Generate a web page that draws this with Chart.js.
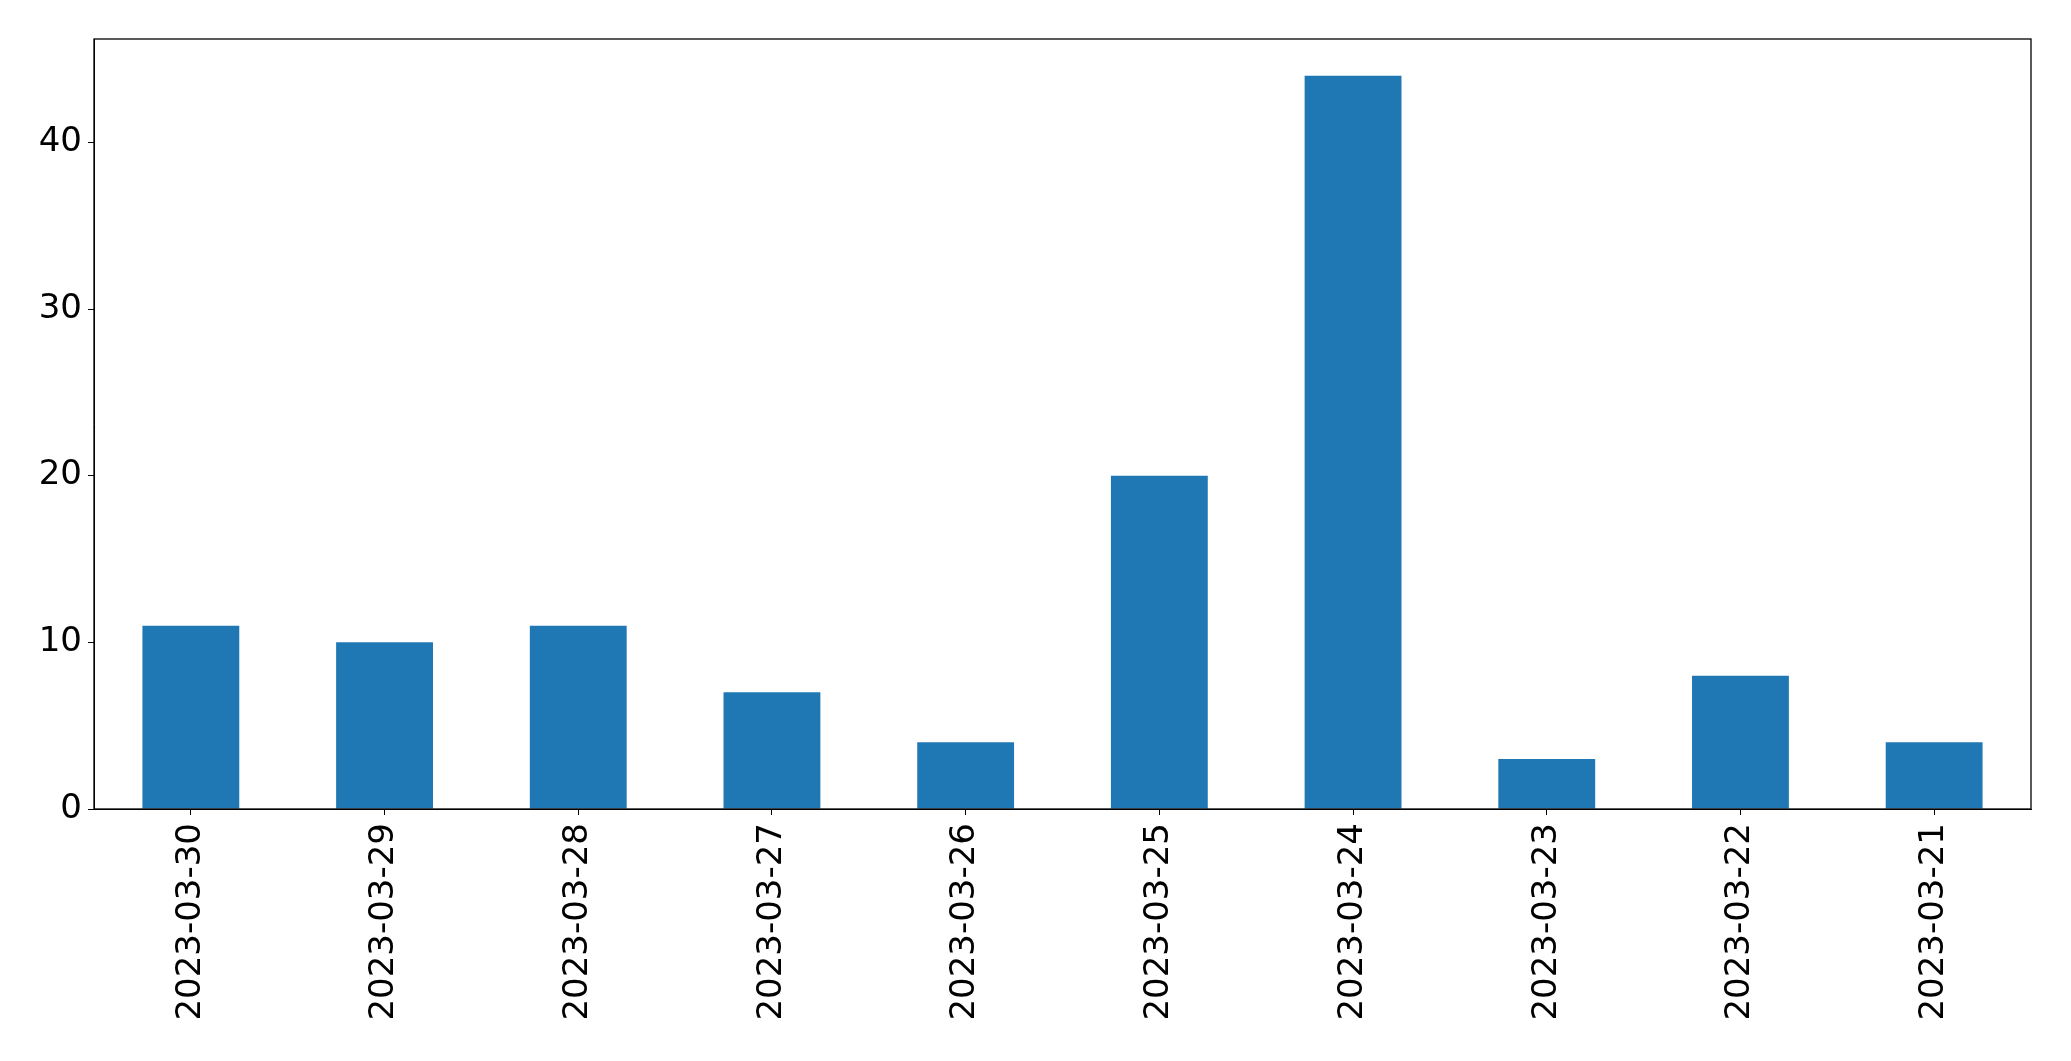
<!DOCTYPE html>
<html>
<head>
    <title>Daily Count</title>
    <script src="https://cdn.jsdelivr.net/npm/chart.js"></script>
    <style>
        html, body { margin: 0; padding: 0; background: #fff; }
    </style>
</head>
<body>
    <canvas id="barChart" width="2071" height="1061"></canvas>

    <script>
        // dates as shown on the x axis (newest first)
        const dates = ['2023-03-30', '2023-03-29', '2023-03-28', '2023-03-27', '2023-03-26',
                       '2023-03-25', '2023-03-24', '2023-03-23', '2023-03-22', '2023-03-21'];
        const counts = [11, 10, 11, 7, 4, 20, 44, 3, 8, 4];
        const yTicks = [0, 10, 20, 30, 40];

        // frame around the plot area, like matplotlib spines
        const frame = {
            id: 'frame',
            afterDraw(chart) {
                const a = chart.chartArea;
                const c = chart.ctx;
                c.save();
                c.strokeStyle = '#000';
                c.lineWidth = 1.3;
                c.strokeRect(a.left, a.top, a.right - a.left, a.bottom - a.top);
                c.restore();
            }
        };

        const tickFont = { family: 'DejaVu Sans', size: 34 };

        const ctx = document.getElementById('barChart').getContext('2d');
        new Chart(ctx, {
            type: 'bar',
            data: {
                labels: dates,
                datasets: [{
                    data: counts,
                    backgroundColor: '#1f77b4',
                    barPercentage: 0.5,
                    categoryPercentage: 1.0
                }]
            },
            options: {
                responsive: false,
                animation: false,
                layout: { padding: { top: 39, right: 40, left: 0, bottom: 0 } },
                plugins: {
                    legend: { display: false },
                    tooltip: { enabled: false }
                },
                scales: {
                    x: {
                        offset: true,
                        grid: { display: true, offset: false, drawOnChartArea: false, color: '#000', tickLength: 6 },
                        border: { display: true, color: '#000' },
                        ticks: {
                            color: '#000',
                            font: tickFont,
                            minRotation: 90,
                            maxRotation: 90,
                            padding: 8,
                            autoSkip: false
                        },
                        afterFit(scale) { scale.height = 1061 - 39 - 770; }
                    },
                    y: {
                        min: 0,
                        max: 46.2,
                        afterBuildTicks(scale) {
                            scale.ticks = yTicks.map(v => ({ value: v }));
                        },
                        grid: { display: true, drawOnChartArea: false, color: '#000', tickLength: 6 },
                        border: { display: true, color: '#000' },
                        ticks: {
                            color: '#000',
                            font: tickFont,
                            padding: 6
                        },
                        afterFit(scale) { scale.width = 94; }
                    }
                }
            },
            plugins: [frame]
        });
    </script>
</body>
</html>
